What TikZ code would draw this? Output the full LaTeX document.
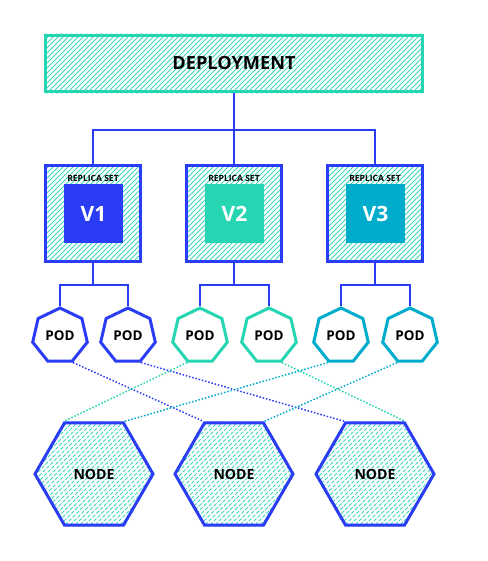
\documentclass[tikz,border=0pt]{standalone}
\usepackage{fontspec}
\setmainfont{Open Sans}
\usetikzlibrary{shapes.geometric, positioning, backgrounds}

\definecolor{kblue}{RGB}{43,60,245}
\definecolor{kteal}{RGB}{38,214,178}
\definecolor{kcyan}{RGB}{0,172,204}
\definecolor{khatch}{RGB}{60,216,184}

\begin{document}
\begin{tikzpicture}[x=0.3mm, y=-0.3mm,
        deploy/.style={draw=kteal, line width=0.9mm, minimum width=113mm, minimum height=17mm, font=\fontsize{15.5}{18}\selectfont\bfseries},
        rsbox/.style={draw=kblue, line width=0.9mm, minimum size=28.6mm, inner sep=0pt},
        version/.style={minimum size=17.7mm, inner sep=0pt, text=white, font=\fontsize{18}{20}\selectfont\bfseries},
        rslabel/.style={inner sep=0pt, font=\fontsize{7.3}{8}\selectfont\bfseries},
        pod/.style={regular polygon, regular polygon sides=7, draw=#1, fill=white, line width=0.9mm, minimum size=16.8mm, inner sep=0pt, font=\fontsize{11.5}{14}\selectfont\bfseries},
        hostnode/.style={regular polygon, regular polygon sides=6, draw=kblue, line width=0.9mm, minimum size=35.4mm, inner sep=0pt, font=\fontsize{12}{14}\selectfont\bfseries},
        hatch/.style={khatch, line width=0.25mm},
        dashhatch/.style={khatch, line width=0.25mm, dash pattern=on 1.1mm off 0.5mm},
        link/.style={draw=kblue, line width=0.6mm},
        dots/.style={line width=0.45mm, dash pattern=on 0.45mm off 0.55mm}
    ]
        \useasboundingbox (0,0) rectangle (488,561);

        % === Deployment ===
        \node[deploy] (dep) at (234,63.5) {DEPLOYMENT};

        % === Replica sets ===
        \node[rsbox] (rs1) at (93,213.5) {};
        \node[rsbox] (rs2) at (234,213.5) {};
        \node[rsbox] (rs3) at (375,213.5) {};

        \node[version, fill=kblue] (v1) at (93.5,213.5) {V1};
        \node[version, fill=kteal] (v2) at (234.5,213.5) {V2};
        \node[version, fill=kcyan] (v3) at (375.5,213.5) {V3};

        \node[rslabel] (lab1) at (93,178) {REPLICA SET};
        \node[rslabel] (lab2) at (234,178) {REPLICA SET};
        \node[rslabel] (lab3) at (375,178) {REPLICA SET};

        \coordinate (split) at (234,130);
        \draw[link] (dep.south) -- (split);
        \draw[link] (rs1.north) |- (split) -| (rs3.north);
        \draw[link] (split) -- (rs2.north);

        % === Pods ===
        \node[pod=kblue] (pod1) at (60,336) {POD};
        \node[pod=kblue] (pod2) at (128,336) {POD};
        \node[pod=kteal] (pod3) at (200,336) {POD};
        \node[pod=kteal] (pod4) at (269,336) {POD};
        \node[pod=kcyan] (pod5) at (341,336) {POD};
        \node[pod=kcyan] (pod6) at (410,336) {POD};

        \coordinate (fork1) at (93,285);
        \coordinate (fork2) at (234,285);
        \coordinate (fork3) at (375,285);
        \draw[link] (rs1.south) -- (fork1);
        \draw[link] (rs2.south) -- (fork2);
        \draw[link] (rs3.south) -- (fork3);
        \draw[link] (pod1.north) |- (fork1) -| (pod2.north);
        \draw[link] (pod3.north) |- (fork2) -| (pod4.north);
        \draw[link] (pod5.north) |- (fork3) -| (pod6.north);

        % === Nodes ===
        \node[hostnode] (hx1) at (94,474) {NODE};
        \node[hostnode] (hx2) at (234,474) {NODE};
        \node[hostnode] (hx3) at (375,474) {NODE};

        % pods scheduled on nodes
        \draw[dots, kblue] (pod1.296) -- (hx2.120);
        \draw[dots, kblue] (pod2.296) -- (hx3.120);
        \draw[dots, kteal] (pod3.244) -- (hx1.120);
        \draw[dots, kteal] (pod4.296) -- (hx3.60);
        \draw[dots, kcyan] (pod5.244) -- (hx1.60);
        \draw[dots, kcyan] (pod6.244) -- (hx2.60);

        % hatching behind boxes and hexagons
        \begin{scope}[on background layer]
            \begin{scope}
                \clip (dep.south west) rectangle (dep.north east)
                      (rs1.south west) rectangle (rs1.north east)
                      (rs2.south west) rectangle (rs2.north east)
                      (rs3.south west) rectangle (rs3.north east);
                \foreach \k in {-200,-195,...,430}
                    \draw[hatch] (\k,270) -- ++(240,-240);
            \end{scope}
            \begin{scope}
                \clip (hx1.corner 1) -- (hx1.corner 2) -- (hx1.corner 3) -- (hx1.corner 4) -- (hx1.corner 5) -- (hx1.corner 6) -- cycle
                      (hx2.corner 1) -- (hx2.corner 2) -- (hx2.corner 3) -- (hx2.corner 4) -- (hx2.corner 5) -- (hx2.corner 6) -- cycle
                      (hx3.corner 1) -- (hx3.corner 2) -- (hx3.corner 3) -- (hx3.corner 4) -- (hx3.corner 5) -- (hx3.corner 6) -- cycle;
                \foreach \k in {-110,-105,...,440}
                    \draw[dashhatch] (\k,540) -- ++(140,-140);
            \end{scope}
        \end{scope}

    \end{tikzpicture}
\end{document}
